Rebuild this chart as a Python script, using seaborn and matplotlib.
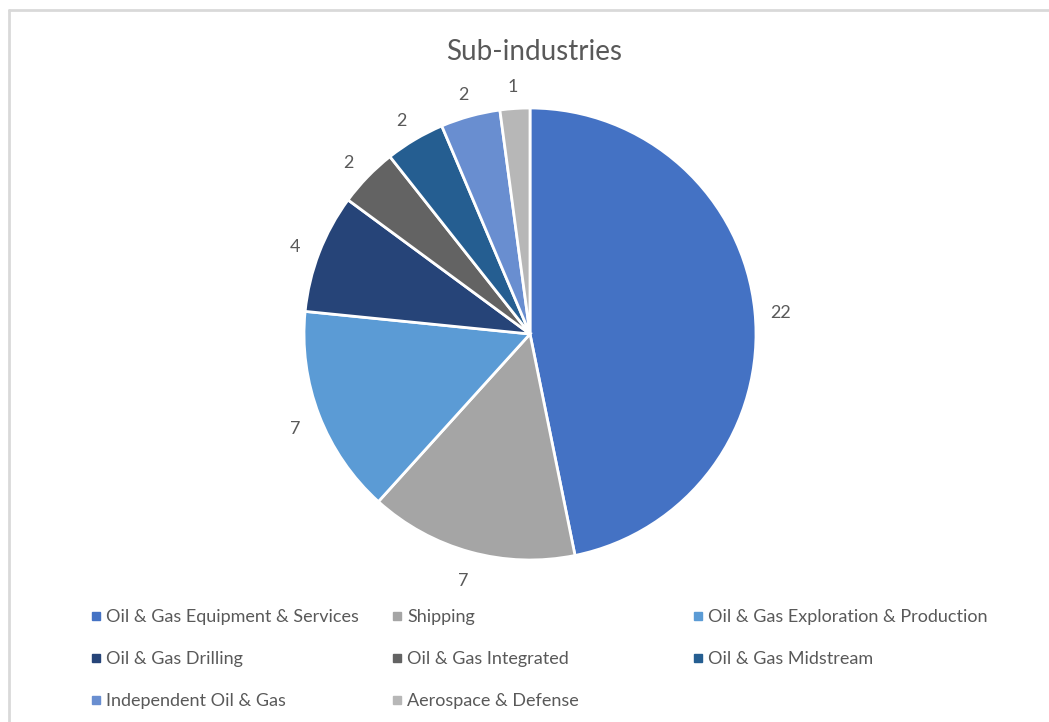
import matplotlib
matplotlib.use("Agg")
import matplotlib.pyplot as plt
import matplotlib.transforms as mtransforms
import seaborn as sns
from matplotlib.lines import Line2D

sns.set_theme(style="white")
plt.rcParams["font.family"] = ["Lato", "DejaVu Sans"]

categories = [
    "Oil & Gas Equipment & Services",
    "Shipping",
    "Oil & Gas Exploration & Production",
    "Oil & Gas Drilling",
    "Oil & Gas Integrated",
    "Oil & Gas Midstream",
    "Independent Oil & Gas",
    "Aerospace & Defense",
]
counts = [22, 7, 7, 4, 2, 2, 2, 1]
palette = sns.color_palette([
    "#4472C4", "#A5A5A5", "#5B9BD5", "#264478",
    "#636363", "#255E91", "#698ED0", "#B7B7B7",
])

text_color = "#595959"
W, H = 1049, 722
fig = plt.figure(figsize=(W / 100, H / 100), dpi=100)

# light frame around the chart area
frame = "#D9D9D9"
fig.add_artist(Line2D([8.5 / W, 1], [1 - 9.5 / H, 1 - 9.5 / H], color=frame, lw=2, transform=fig.transFigure))
fig.add_artist(Line2D([8.5 / W, 8.5 / W], [0, 1 - 9.5 / H], color=frame, lw=2, transform=fig.transFigure))

# pie axes: centre (530, 334) px, radius 226 px
cx, cy, r = 530, 334, 226
ax = fig.add_axes([(cx - r) / W, (H - cy - r) / H, 2 * r / W, 2 * r / H])
wedges, texts = ax.pie(
    counts,
    labels=[str(v) for v in counts],
    colors=palette,
    startangle=90,
    counterclock=False,
    labeldistance=1.115,
    wedgeprops=dict(edgecolor="white", linewidth=2),
    textprops=dict(color=text_color, fontsize=13),
)
shift = mtransforms.offset_copy(ax.transData, fig=fig, x=0, y=-2.5, units="dots")
for t in texts:
    t.set_horizontalalignment("center")
    t.set_verticalalignment("center_baseline")
    t.set_transform(shift)
ax.set_aspect("equal")
ax.set_xlim(-1, 1)
ax.set_ylim(-1, 1)
ax.axis("off")

fig.text(534 / W, 1 - 52 / H, "Sub-industries", ha="center", va="center",
         fontsize=20, color=text_color)

# legend laid out in three columns, filled row by row
col_x = [91, 392, 693]
for c in range(3):
    idx = list(range(c, len(categories), 3))
    handles = [
        Line2D([], [], marker="s", linestyle="none", markersize=6,
               markerfacecolor=palette[i], markeredgecolor=palette[i])
        for i in idx
    ]
    fig.legend(
        handles, [categories[i] for i in idx],
        loc="upper left", bbox_to_anchor=(col_x[c] / W, 1 - 609 / H),
        frameon=False, fontsize=13, labelcolor=text_color,
        handlelength=0.55, handletextpad=0.3, labelspacing=1.44,
        borderpad=0, borderaxespad=0,
    )

fig.savefig("out.png", dpi=100, facecolor="white")
